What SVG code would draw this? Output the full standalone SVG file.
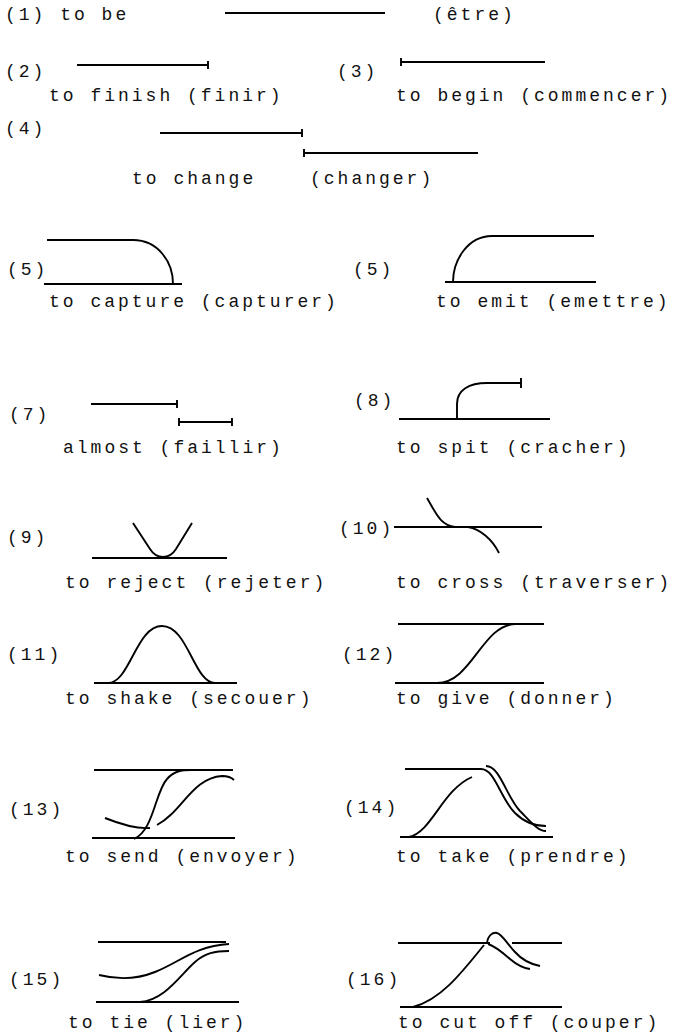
<svg xmlns="http://www.w3.org/2000/svg" width="674" height="1036" viewBox="0 0 674 1036">
<style>
.t{font-family:"Liberation Mono","Courier New",monospace;font-size:18px;letter-spacing:3px;fill:#111}
.l{stroke:#000;stroke-width:1.9;fill:none;stroke-linecap:butt}
</style>
<rect width="674" height="1036" fill="#fff"/>
<g id="item1">
<text class="t" x="5" y="20">(1) to be</text>
<path class="l" d="M225,13 H385"/>
<text class="t" x="433" y="20">(être)</text>
</g>
<g id="item2">
<text class="t" x="5" y="77">(2)</text>
<path class="l" d="M77,65 H208 M208,61 V69"/>
<text class="t" x="49" y="101">to finish (finir)</text>
</g>
<g id="item3">
<text class="t" x="337" y="77">(3)</text>
<path class="l" d="M401,62 H545 M401,58 V66"/>
<text class="t" x="396" y="101">to begin (commencer)</text>
</g>
<g id="item4">
<text class="t" x="5" y="134">(4)</text>
<path class="l" d="M160,133 H302 M302,129 V137"/>
<path class="l" d="M304,153 H478 M304,149 V157"/>
<text class="t" x="132" y="184">to change</text>
<text class="t" x="310" y="184">(changer)</text>
</g>
<g id="item5">
<text class="t" x="7" y="275">(5)</text>
<path class="l" d="M47,240 H133 C158,240 173,262 173,284"/>
<path class="l" d="M44,284 H182"/>
<text class="t" x="49" y="307">to capture (capturer)</text>
</g>
<g id="item6">
<text class="t" x="353" y="275">(5)</text>
<path class="l" d="M453,282 C453,260 468,236 492,236 H594"/>
<path class="l" d="M445,282 H596"/>
<text class="t" x="436" y="307">to emit (emettre)</text>
</g>
<g id="item7">
<text class="t" x="9" y="420">(7)</text>
<path class="l" d="M91,404 H177 M177,400 V408"/>
<path class="l" d="M179,422 H232 M179,418 V426 M232,418 V426"/>
<text class="t" x="63" y="453">almost (faillir)</text>
</g>
<g id="item8">
<text class="t" x="354" y="406">(8)</text>
<path class="l" d="M399,419 H550"/>
<path class="l" d="M457,419 V404 C457,390 469,383 487,383 H521 M521,378 V388"/>
<text class="t" x="396" y="453">to spit (cracher)</text>
</g>
<g id="item9">
<text class="t" x="7" y="543">(9)</text>
<path class="l" d="M133,523 L150,549 Q155,557 163,557 Q171,557 176,549 L192,523"/>
<path class="l" d="M92,558 H227"/>
<text class="t" x="65" y="588">to reject (rejeter)</text>
</g>
<g id="item10">
<text class="t" x="339" y="534">(10)</text>
<path class="l" d="M394,527 H542"/>
<path class="l" d="M427,498 C436,513 440,525 455,527"/>
<path class="l" d="M468,527 C480,529 492,539 499,553"/>
<text class="t" x="396" y="588">to cross (traverser)</text>
</g>
<g id="item11">
<text class="t" x="7" y="660">(11)</text>
<path class="l" d="M94,683 H237"/>
<path class="l" d="M108,683 C130,683 136,626 162,626 C188,626 194,683 215,683"/>
<text class="t" x="65" y="704">to shake (secouer)</text>
</g>
<g id="item12">
<text class="t" x="342" y="660">(12)</text>
<path class="l" d="M398,624 H544 M395,683 H544"/>
<path class="l" d="M437,683 C472,683 482,624 516,624"/>
<text class="t" x="396" y="704">to give (donner)</text>
</g>
<g id="item13">
<text class="t" x="9" y="815">(13)</text>
<path class="l" d="M94,770 H233 M92,838 H235"/>
<path class="l" d="M134,839 C154,830 155,792 167,779 C174,771 181,770 192,770"/>
<path class="l" d="M105,818 C120,824 138,829 150,828"/>
<path class="l" d="M157,825 C182,812 192,778 222,776 Q230,776 234,780"/>
<text class="t" x="65" y="862">to send (envoyer)</text>
</g>
<g id="item14">
<text class="t" x="344" y="813">(14)</text>
<path class="l" d="M405,769 H481 M400,837 H553"/>
<path class="l" d="M409,837 C432,832 442,790 472,777"/>
<path class="l" d="M481,769 C495,769 500,798 515,813 C525,823 535,826 546,826"/>
<path class="l" d="M486,766 C500,766 506,796 520,811 C531,822 538,831 546,831"/>
<text class="t" x="396" y="862">to take (prendre)</text>
</g>
<g id="item15">
<text class="t" x="9" y="985">(15)</text>
<path class="l" d="M98,942 H226 M96,1002 H239"/>
<path class="l" d="M99,975 C115,979 135,980 155,972 C180,962 195,946 229,944"/>
<path class="l" d="M140,1002 C165,1000 180,975 195,962 C205,953 215,951 229,951"/>
<text class="t" x="68" y="1028">to tie (lier)</text>
</g>
<g id="item16">
<text class="t" x="346" y="985">(16)</text>
<path class="l" d="M398,943 H490 M512,943 H562 M400,1007 H562"/>
<path class="l" d="M413,1007 C440,1000 460,975 484,945"/>
<path class="l" d="M487,943 C488,935 493,932 497,933 C502,934 508,945 515,952 C522,960 530,964 540,966"/>
<path class="l" d="M488,944 C495,946 502,952 510,959 C517,965 522,968 530,969"/>
<text class="t" x="398" y="1028">to cut off (couper)</text>
</g>
</svg>
